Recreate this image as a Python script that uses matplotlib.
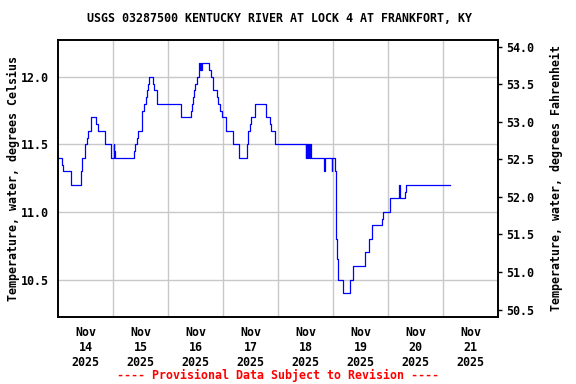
import pandas as pd
import matplotlib
matplotlib.use("Agg")
import matplotlib.pyplot as plt
import matplotlib.dates as mdates
import numpy as np

# ====== DATA ======
times = [
    "2025-11-14 00:00", "2025-11-14 01:45", "2025-11-14 02:00", "2025-11-14 05:45",
    "2025-11-14 09:45", "2025-11-14 10:30", "2025-11-14 11:30", "2025-11-14 12:30",
    "2025-11-14 13:00", "2025-11-14 14:15", "2025-11-14 16:30", "2025-11-14 17:15",
    "2025-11-14 20:30", "2025-11-14 23:00", "2025-11-15 00:15", "2025-11-15 00:30",
    "2025-11-15 00:45", "2025-11-15 09:00", "2025-11-15 09:30", "2025-11-15 10:30",
    "2025-11-15 11:00", "2025-11-15 12:30", "2025-11-15 12:45", "2025-11-15 13:15",
    "2025-11-15 14:15", "2025-11-15 14:45", "2025-11-15 15:15", "2025-11-15 15:30",
    "2025-11-15 17:15", "2025-11-15 17:45", "2025-11-15 19:15", "2025-11-16 05:30",
    "2025-11-16 10:00", "2025-11-16 10:30", "2025-11-16 11:00", "2025-11-16 11:30",
    "2025-11-16 11:45", "2025-11-16 12:30", "2025-11-16 13:30", "2025-11-16 13:45",
    "2025-11-16 14:15", "2025-11-16 14:30", "2025-11-16 14:45", "2025-11-16 17:45",
    "2025-11-16 18:45", "2025-11-16 19:30", "2025-11-16 21:15", "2025-11-16 21:45",
    "2025-11-16 22:45", "2025-11-16 23:30", "2025-11-17 01:15", "2025-11-17 04:30",
    "2025-11-17 07:00", "2025-11-17 10:15", "2025-11-17 10:45", "2025-11-17 11:00",
    "2025-11-17 11:45", "2025-11-17 12:00", "2025-11-17 14:00", "2025-11-17 18:45",
    "2025-11-17 20:15", "2025-11-17 20:45", "2025-11-17 22:30", "2025-11-18 12:00",
    "2025-11-18 12:15", "2025-11-18 12:30", "2025-11-18 13:00", "2025-11-18 13:30",
    "2025-11-18 14:00", "2025-11-18 14:15", "2025-11-18 20:00", "2025-11-18 20:30",
    "2025-11-18 23:30", "2025-11-18 23:45", "2025-11-19 01:00", "2025-11-19 01:15",
    "2025-11-19 01:45", "2025-11-19 02:15", "2025-11-19 04:15", "2025-11-19 04:30",
    "2025-11-19 07:15", "2025-11-19 08:45", "2025-11-19 14:00", "2025-11-19 15:30",
    "2025-11-19 17:00", "2025-11-19 21:30", "2025-11-19 22:00", "2025-11-20 00:45",
    "2025-11-20 01:00", "2025-11-20 04:45", "2025-11-20 05:15", "2025-11-20 07:30",
    "2025-11-20 08:00", "2025-11-21 03:15",
]
temp_c = [
    11.40, 11.35, 11.30, 11.20,
    11.30, 11.40, 11.50, 11.55,
    11.60, 11.70, 11.65, 11.60,
    11.50, 11.40, 11.50, 11.45,
    11.40, 11.45, 11.50, 11.55,
    11.60, 11.70, 11.75, 11.80,
    11.85, 11.90, 11.95, 12.00,
    11.95, 11.90, 11.80, 11.70,
    11.75, 11.80, 11.85, 11.90,
    11.95, 12.00, 12.10, 12.05,
    12.10, 12.05, 12.10, 12.05,
    12.00, 11.90, 11.85, 11.80,
    11.75, 11.70, 11.60, 11.50,
    11.40, 11.50, 11.55, 11.60,
    11.65, 11.70, 11.80, 11.70,
    11.65, 11.60, 11.50, 11.40,
    11.50, 11.40, 11.50, 11.40,
    11.50, 11.40, 11.30, 11.40,
    11.30, 11.40, 11.30, 10.80,
    10.65, 10.50, 10.45, 10.40,
    10.50, 10.60, 10.70, 10.80,
    10.90, 10.95, 11.00, 11.05,
    11.10, 11.20, 11.10, 11.15,
    11.20, 11.20,
]

day_labels = ["Nov\n14\n2025", "Nov\n15\n2025", "Nov\n16\n2025", "Nov\n17\n2025",
              "Nov\n18\n2025", "Nov\n19\n2025", "Nov\n20\n2025", "Nov\n21\n2025"]
left_ticks = [10.5, 11.0, 11.5, 12.0]
right_ticks = [50.5, 51.0, 51.5, 52.0, 52.5, 53.0, 53.5, 54.0]

title = "USGS 03287500 KENTUCKY RIVER AT LOCK 4 AT FRANKFORT, KY"
ylabel_left = "Temperature, water, degrees Celsius"
ylabel_right = "Temperature, water, degrees Fahrenheit"
footer = "---- Provisional Data Subject to Revision ----"

# ====== FIGURE ======
font = dict(family="DejaVu Sans Mono", weight="bold", size=8.4)

t = pd.to_datetime(times)
fig = plt.figure(figsize=(5.76, 3.84), dpi=100)
ax = fig.add_axes([0.101, 0.1753, 0.7636, 0.7213])

ax.plot(t, temp_c, drawstyle="steps-post", color="blue", linewidth=0.9)

x0 = pd.Timestamp("2025-11-14 00:00")
x1 = pd.Timestamp("2025-11-22 00:00")
ax.set_xlim(x0, x1)
ylo, yhi = 10.225, 12.274
ax.set_ylim(ylo, yhi)

# labels at noon, grid at midnight
noons = pd.date_range("2025-11-14 12:00", periods=8, freq="D")
mids = pd.date_range("2025-11-15 00:00", periods=7, freq="D")
ax.set_xticks(noons)
ax.set_xticklabels(day_labels, **font)
ax.set_xticks(mids, minor=True)
ax.tick_params(axis="x", which="both", length=0, pad=7)
ax.grid(True, which="minor", axis="x", color="#c8c8c8", linewidth=1)

ax.set_yticks(left_ticks)
ax.set_yticklabels([f"{v:.1f}" for v in left_ticks], **font)
ax.tick_params(axis="y", length=0, pad=7)
ax.grid(True, which="major", axis="y", color="#c8c8c8", linewidth=1)

ax2 = ax.twinx()
ax2.set_ylim(ylo * 1.8 + 32, yhi * 1.8 + 32)
ax2.set_yticks(right_ticks)
ax2.set_yticklabels([f"{v:.1f}" for v in right_ticks], **font)
ax2.tick_params(axis="y", length=3, width=1, pad=3)

for a in (ax, ax2):
    for s in a.spines.values():
        s.set_linewidth(1.2)
        s.set_color("black")

fig.text(0.485, 1 - 19 / 384, title, ha="center", va="center", **font)
fig.text(0.024, 0.536, ylabel_left, rotation=90, ha="center", va="center", **font)
fig.text(0.966, 0.536, ylabel_right, rotation=90, ha="center", va="center", **font)
fig.text(0.483, 1 - 375 / 384, footer, ha="center", va="center", color="red", **font)

fig.savefig("out.png", dpi=100)
